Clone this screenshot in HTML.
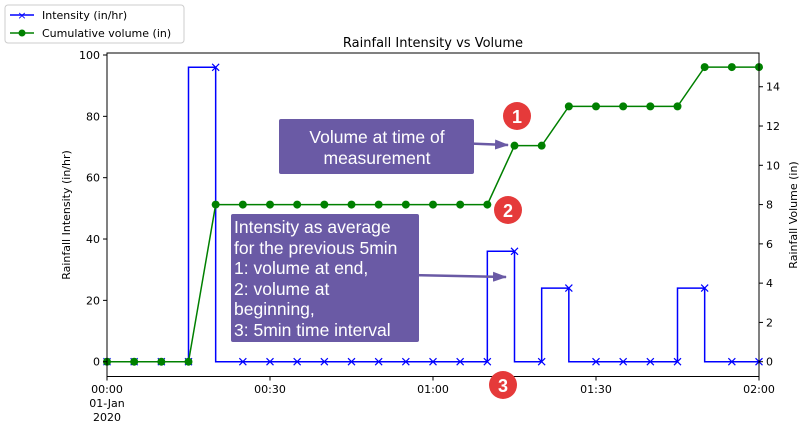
<!DOCTYPE html>
<html><head><meta charset="utf-8"><style>
body{margin:0;background:#fff;}
svg text{font-family:"DejaVu Sans","Liberation Sans",sans-serif;}
svg text.lib{font-family:"Liberation Sans",sans-serif;}
</style></head><body>
<svg id="chart" width="800" height="424" viewBox="0 0 800 424">
<defs><marker id="ah" markerUnits="userSpaceOnUse" markerWidth="14" markerHeight="10" refX="13" refY="5" orient="auto"><path d="M0,0 L14,5 L0,10 Z" fill="#6a5aa5"/></marker></defs>
<g id="marks"></g>
<rect x="107" y="53" width="652" height="323.5" fill="none" stroke="#000" stroke-width="1"/>
<text x="433" y="47" font-size="13" text-anchor="middle">Rainfall Intensity vs Volume</text>
<text transform="translate(70,215) rotate(-90)" font-size="11" text-anchor="middle">Rainfall Intensity (in/hr)</text>
<text transform="translate(797,215) rotate(-90)" font-size="11" text-anchor="middle">Rainfall Volume (in)</text>
<g id="axes"></g>
<g>
<rect x="5" y="5" width="179" height="38" rx="3" fill="#fff" stroke="#ccc"/>
<line x1="10" y1="15" x2="34" y2="15" stroke="blue" stroke-width="1.5"/>
<text x="22" y="19" font-size="11" fill="blue" text-anchor="middle">×</text>
<text x="42" y="19" font-size="11">Intensity (in/hr)</text>
<line x1="10" y1="33" x2="34" y2="33" stroke="green" stroke-width="1.5"/>
<circle cx="22" cy="33" r="3.5" fill="green"/>
<text x="42" y="37" font-size="11">Cumulative volume (in)</text>
</g>
<g>
<rect x="279" y="119" width="195" height="55" rx="2" fill="#6a5aa5"/>
<text class="lib" x="377" y="143" font-size="17.5" fill="#fff" text-anchor="middle">Volume at time of</text>
<text class="lib" x="377" y="164" font-size="17.5" fill="#fff" text-anchor="middle">measurement</text>
<line x1="456" y1="143" x2="508" y2="145" stroke="#6a5aa5" stroke-width="2.5" marker-end="url(#ah)"/>
</g>
<g>
<rect x="231" y="214" width="188" height="128" rx="2" fill="#6a5aa5"/>
<g font-size="17.5" fill="#fff">
<text class="lib" x="234" y="233">Intensity as average</text>
<text class="lib" x="234" y="254">for the previous 5min</text>
<text class="lib" x="234" y="274">1: volume at end,</text>
<text class="lib" x="234" y="295">2: volume at</text>
<text class="lib" x="234" y="315">beginning,</text>
<text class="lib" x="234" y="336">3: 5min time interval</text>
</g>
<line x1="409" y1="275" x2="506" y2="277" stroke="#6a5aa5" stroke-width="2.5" marker-end="url(#ah)"/>
</g>
<g font-size="18" font-weight="bold" fill="#fff" text-anchor="middle">
<circle cx="517" cy="116" r="14" fill="#e53a3a"/><text class="lib" x="517" y="123">1</text>
<circle cx="508" cy="210" r="14" fill="#e53a3a"/><text class="lib" x="508" y="217">2</text>
<circle cx="503" cy="385" r="14" fill="#e53a3a"/><text class="lib" x="503" y="392">3</text>
</g>
</svg>
<script>
const minutes=[0,5,10,15,20,25,30,35,40,45,50,55,60,65,70,75,80,85,90,95,100,105,110,115,120];
const intensity=[0,0,0,0,96,0,0,0,0,0,0,0,0,0,0,36,0,24,0,0,0,0,24,0,0];
const volume=[0,0,0,0,8,8,8,8,8,8,8,8,8,8,8,11,11,13,13,13,13,13,15,15,15];
const leftTicks=[0,20,40,60,80,100];
const rightTicks=[0,2,4,6,8,10,12,14];
const xTickMin=[0,30,60,90,120];
const xTickLabels=["00:00","00:30","01:00","01:30","02:00"];
const NS="http://www.w3.org/2000/svg";
const X=m=>107+m*652/120;
const YL=v=>361.7-v*3.067;
const YR=v=>361.7-v*19.64;
const marks=document.getElementById('marks'),axes=document.getElementById('axes');
function mk(t,a,p){const e=document.createElementNS(NS,t);for(const k in a)e.setAttribute(k,a[k]);(p||marks).appendChild(e);return e;}
let d='M'+X(minutes[0])+','+YL(intensity[0]);
for(let i=1;i<minutes.length;i++){d+=' L'+X(minutes[i-1])+','+YL(intensity[i])+' L'+X(minutes[i])+','+YL(intensity[i]);}
const il=mk('path',{d:d,fill:'none',stroke:'blue','stroke-width':1.5});


minutes.forEach((m,i)=>{const x=X(m),y=YL(intensity[i]);
const p=mk('path',{d:`M${x-3.5},${y-3.5}L${x+3.5},${y+3.5}M${x-3.5},${y+3.5}L${x+3.5},${y-3.5}`,stroke:'blue','stroke-width':1.2});

});
const vl=mk('polyline',{points:minutes.map((m,i)=>X(m)+','+YR(volume[i])).join(' '),fill:'none',stroke:'green','stroke-width':1.5});


minutes.forEach((m,i)=>{const c=mk('circle',{cx:X(m),cy:YR(volume[i]),r:4,fill:'green'});

});
leftTicks.forEach(v=>{const y=YL(v);mk('line',{x1:103,x2:107,y1:y,y2:y,stroke:'#000'},axes);
const t=mk('text',{x:100,y:y+4,'font-size':11,'text-anchor':'end'},axes);t.textContent=v;

});
rightTicks.forEach(v=>{const y=YR(v);mk('line',{x1:759,x2:763,y1:y,y2:y,stroke:'#000'},axes);
const t=mk('text',{x:766,y:y+4,'font-size':11},axes);t.textContent=v;

});
xTickMin.forEach((m,i)=>{const x=X(m);mk('line',{x1:x,x2:x,y1:376.5,y2:380.5,stroke:'#000'},axes);
const t=mk('text',{x:x,y:393,'font-size':11,'text-anchor':'middle'},axes);t.textContent=xTickLabels[i];

});
[['01-Jan',407],['2020',421]].forEach(a=>{const t=mk('text',{x:X(0),y:a[1],'font-size':11,'text-anchor':'middle'},axes);t.textContent=a[0];

});
</script>
</body></html>
